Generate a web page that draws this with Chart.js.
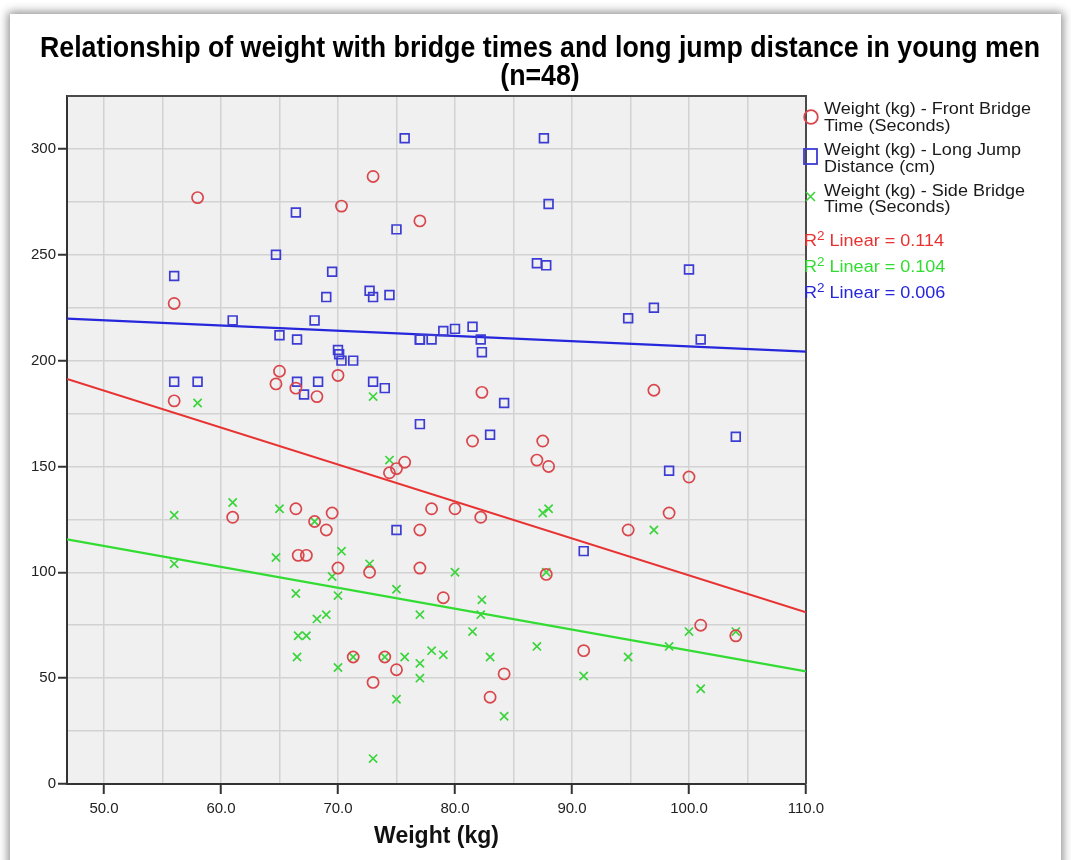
<!DOCTYPE html>
<html>
<head>
<meta charset="utf-8">
<script src="https://cdn.jsdelivr.net/npm/chart.js@4/dist/chart.umd.min.js"></script>
<style>
html,body{margin:0;padding:0;background:#fff;}
body{width:1071px;height:860px;position:relative;overflow:hidden;font-family:"Liberation Sans",Arial,sans-serif;}
#frame{position:absolute;left:10px;top:14px;width:1051px;height:880px;background:#fff;box-shadow:0 0 9px 2px rgba(0,0,0,0.45);}
#c{position:absolute;left:0;top:0;}
#title{position:absolute;left:0;top:33px;width:1071px;font-weight:bold;font-size:29px;line-height:28px;color:#000;font-family:"Liberation Sans Narrow","Liberation Sans",Arial,sans-serif;}
#title div{position:relative;height:28px;}
#title span{position:absolute;left:540px;top:0;white-space:nowrap;transform-origin:50% 50%;}
.lg{position:absolute;left:824px;font-size:16px;line-height:16.7px;color:#1a1a1a;white-space:nowrap;transform-origin:0 50%;}
.mk{position:absolute;}
.r2{position:absolute;left:804px;font-size:16px;line-height:20px;white-space:nowrap;transform-origin:0 50%;}
.r2 sup{font-size:12px;vertical-align:6px;line-height:0;}
</style>
</head>
<body>
<div id="frame"></div>
<canvas id="c" width="1071" height="860"></canvas>
<div id="title"></div>
<div id="legend"></div>
<script>
// ---- chart text ----
const titleLines = ['Relationship of weight with bridge times and long jump distance in young men', '(n=48)'];
const xAxisTitle = 'Weight (kg)';
const seriesLabels = [
  ['Weight (kg) - Front Bridge', 'Time (Seconds)'],
  ['Weight (kg) - Long Jump', 'Distance (cm)'],
  ['Weight (kg) - Side Bridge', 'Time (Seconds)']
];
const r2Values = ['0.114', '0.104', '0.006'];   // red, green, blue (as listed)

// ---- data ----
const frontWeight = [58,56,56,61,65,64.7,66.4,68.2,70,70.3,73,77,66.4,66.6,67.3,68,69,69.5,70,72.7,71.3,73,74,75,74.4,75,75.7,77,77,78,79,80,82.3,81.5,82.2,83,84.2,87,87.5,88,87.8,91,94.8,97,98.3,100,101,104];
const frontTime   = [277,227,181,126,195,189,187,183,193,273,287,266,130,108,108,124,120,128,102,100,60,48,60,54,147,149,152,120,102,130,88,130,185,162,126,41,52,153,162,150,99,63,120,186,128,145,75,70];

const jumpWeight = [56,56,58,61,64.7,65,66.4,66.5,66.5,67.1,68,68.3,69,69.5,70,70.1,70.3,71.3,72.7,73,73,74,74.4,75,75.7,77,77,77,78,79,80,81.5,82.2,82.3,83,84.2,75,87,87.8,87.6,88,91,94.8,97,98.3,100,101,104];
const jumpDist   = [240,190,190,219,250,212,270,210,190,184,219,190,230,242,205,203,200,200,233,230,190,187,231,262,305,170,210,210,210,214,215,216,210,204,165,180,120,246,245,305,274,110,220,225,148,243,210,164];

const sideWeight = [58,56,61,65,64.7,68,73,74.4,70.3,87.5,88,56,66.4,68.2,66.6,67.3,66.5,72.7,69.5,70,69,75,77,80,82.3,82.2,81.5,87,87.8,71.3,74,70,75.7,77,77,78,79,83,75,84.2,73,91,94.8,98.3,100,101,104,97];
const sideTime   = [180,127,133,130,107,124,183,153,110,128,130,104,90,78,70,70,60,104,98,89,80,92,80,100,87,80,72,65,100,60,60,55,60,57,50,63,61,60,40,32,12,51,60,65,72,45,72,120];

// axis ranges and ticks
const X_MIN = 46.84, X_MAX = 110, X_STEP = 5, X_LABEL_STEP = 10;
const Y_MIN = 0, Y_MAX = 325, Y_STEP = 25, Y_LABEL_STEP = 50;

// ---- colours ----
const RED_PT = '#d9464c', BLUE_PT = '#3c3cd4', GREEN_PT = '#3cd43c';
const RED_LN = '#e83232', BLUE_LN = '#2626dc', GREEN_LN = '#32dc32';

function pts(xs, ys){ return xs.map((x,i)=>({x:x, y:ys[i]})); }
function fitLine(xs, ys){
  const n = xs.length;
  const mx = xs.reduce((a,b)=>a+b,0)/n, my = ys.reduce((a,b)=>a+b,0)/n;
  let sxy=0, sxx=0;
  for(let i=0;i<n;i++){ sxy += (xs[i]-mx)*(ys[i]-my); sxx += (xs[i]-mx)*(xs[i]-mx); }
  const b = sxy/sxx, a = my - b*mx;
  return [{x:X_MIN, y:a+b*X_MIN}, {x:X_MAX, y:a+b*X_MAX}];
}

const plotBg = {
  id:'plotBg',
  beforeDraw(chart){
    const {ctx, chartArea:a} = chart;
    ctx.save(); ctx.fillStyle='#f0f0f0';
    ctx.fillRect(a.left, a.top, a.right-a.left, a.bottom-a.top); ctx.restore();
  },
  beforeDatasetsDraw(chart){
    const {ctx, chartArea:a} = chart;
    ctx.save(); ctx.strokeStyle='#4a4a4a'; ctx.lineWidth=2;
    ctx.beginPath();
    ctx.moveTo(a.left, a.top); ctx.lineTo(a.right, a.top); ctx.lineTo(a.right, a.bottom);
    ctx.stroke(); ctx.restore();
  }
};

const tickFont = {family:'"Liberation Sans", Arial, sans-serif', size:15};

new Chart(document.getElementById('c'), {
  type:'scatter',
  data:{datasets:[
    {label:seriesLabels[0].join(' '), data:pts(frontWeight, frontTime), pointStyle:'circle', pointRadius:5.6, borderColor:RED_PT, backgroundColor:'rgba(0,0,0,0)', borderWidth:1.7},
    {label:seriesLabels[1].join(' '), data:pts(jumpWeight, jumpDist), pointStyle:'rect', pointRadius:6.2, borderColor:BLUE_PT, backgroundColor:'rgba(0,0,0,0)', borderWidth:1.7},
    {label:seriesLabels[2].join(' '), data:pts(sideWeight, sideTime), pointStyle:'crossRot', pointRadius:5.8, borderColor:GREEN_PT, backgroundColor:GREEN_PT, borderWidth:1.7},
    {type:'line', label:'fit front', data:fitLine(frontWeight, frontTime), borderColor:RED_LN, borderWidth:2.2, pointRadius:0, fill:false},
    {type:'line', label:'fit jump', data:fitLine(jumpWeight, jumpDist), borderColor:BLUE_LN, borderWidth:2.2, pointRadius:0, fill:false},
    {type:'line', label:'fit side', data:fitLine(sideWeight, sideTime), borderColor:GREEN_LN, borderWidth:2.2, pointRadius:0, fill:false}
  ]},
  options:{
    responsive:false, animation:false, events:[],
    layout:{padding:{left:0, right:265, top:96, bottom:0}},
    plugins:{legend:{display:false}, title:{display:false}, tooltip:{enabled:false}},
    scales:{
      x:{type:'linear', min:X_MIN, max:X_MAX,
        ticks:{stepSize:X_STEP, includeBounds:false, autoSkip:false, maxRotation:0, padding:6, color:'#222', font:tickFont,
          callback:v=> (Math.abs(v % X_LABEL_STEP) < 1e-6) ? v.toFixed(1) : ''},
        grid:{color:'#d2d2d2', lineWidth:1.5, tickLength:10,
          tickColor:c=> (c.tick && Math.abs(c.tick.value % X_LABEL_STEP) < 1e-6) ? '#333' : 'rgba(0,0,0,0)', tickWidth:2},
        border:{color:'#333', width:2},
        title:{display:true, text:xAxisTitle, color:'#111', font:{family:'"Liberation Sans", Arial, sans-serif', size:23, weight:'bold'}, padding:{top:0, bottom:10}},
        afterFit:s=>{ s.height = 76; }
      },
      y:{type:'linear', min:Y_MIN, max:Y_MAX,
        ticks:{stepSize:Y_STEP, autoSkip:false, padding:2, color:'#222', font:tickFont,
          callback:v=> (v % Y_LABEL_STEP === 0) ? String(v) : ''},
        grid:{color:'#d2d2d2', lineWidth:1.5, tickLength:9,
          tickColor:c=> (c.tick && c.tick.value % Y_LABEL_STEP === 0) ? '#333' : 'rgba(0,0,0,0)', tickWidth:2},
        border:{color:'#333', width:2},
        afterFit:s=>{ s.width = 67; }
      }
    }
  },
  plugins:[plotBg]
});

// ---- title (HTML text) ----
const titleEl = document.getElementById('title');
titleLines.forEach(t=>{ const d=document.createElement('div'); const s=document.createElement('span'); s.textContent=t; d.appendChild(s); titleEl.appendChild(d); });
const spans = titleEl.querySelectorAll('span');
const tScale = 1000 / spans[0].getBoundingClientRect().width;
spans.forEach(s=> s.style.transform = 'translateX(-50%) scaleX(' + tScale + ')');

// ---- legend (HTML text) ----
const legend = document.getElementById('legend');
const markerSvgs = [
  '<svg width="18" height="18"><circle cx="9" cy="9" r="6.8" fill="none" stroke="'+RED_PT+'" stroke-width="1.8"/></svg>',
  '<svg width="18" height="20"><rect x="2" y="2" width="13" height="15" fill="none" stroke="'+BLUE_PT+'" stroke-width="1.8"/></svg>',
  '<svg width="18" height="18"><path d="M4 4 L13 13 M13 4 L4 13" stroke="'+GREEN_PT+'" stroke-width="1.6"/></svg>'
];
const markerTops = [108, 147, 188];
const markerLefts = [802, 802, 802];
let lgScale = null;
seriesLabels.forEach((lines, i)=>{
  const top = 101 + i*40.8;
  const t = document.createElement('div'); t.className='lg'; t.style.top = top+'px';
  t.innerHTML = lines.map(l=>l.replace(/&/g,'&amp;')).join('<br>');
  legend.appendChild(t);
  if(lgScale===null){ const probe=document.createElement('span'); probe.style.cssText='font-size:16px;white-space:nowrap;position:absolute;visibility:hidden'; probe.textContent=lines[0]; document.body.appendChild(probe); lgScale = 207/probe.getBoundingClientRect().width; probe.remove(); }
  t.style.transform = 'scaleX('+lgScale+')';
  const m = document.createElement('div'); m.className='mk'; m.style.left=markerLefts[i]+'px'; m.style.top=markerTops[i]+'px'; m.innerHTML=markerSvgs[i];
  legend.appendChild(m);
});
const r2Colors = [RED_LN, GREEN_LN, BLUE_LN];
r2Values.forEach((v,i)=>{
  const d = document.createElement('div'); d.className='r2';
  d.style.top = (231 + i*26)+'px'; d.style.color = r2Colors[i];
  d.innerHTML = 'R<sup>2</sup> Linear = ' + v;
  d.style.transform = 'scaleX('+lgScale+')';
  legend.appendChild(d);
});
</script>
</body>
</html>
